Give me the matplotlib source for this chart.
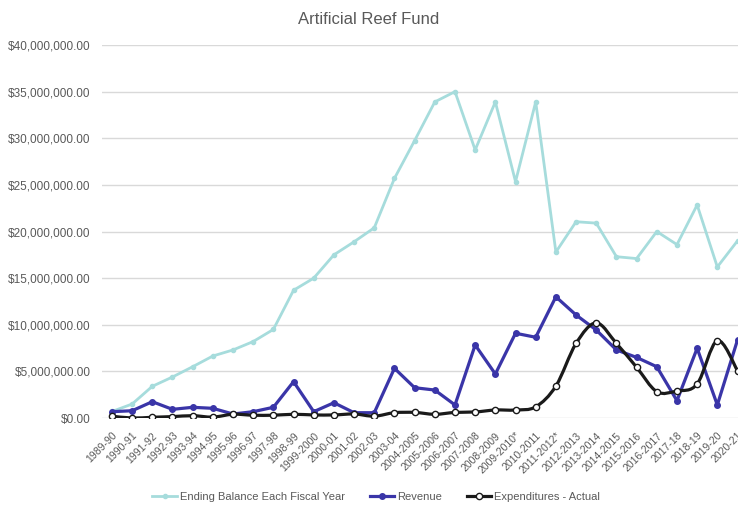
import matplotlib
matplotlib.use("Agg")
import matplotlib.pyplot as plt
import numpy as np
from matplotlib.path import Path
from matplotlib.patches import PathPatch
from matplotlib.lines import Line2D
from matplotlib.ticker import FuncFormatter, MultipleLocator

plt.rcParams['font.family'] = ['Liberation Sans', 'DejaVu Sans']

years = ["1989-90", "1990-91", "1991-92", "1992-93", "1993-94", "1994-95", "1995-96",
         "1996-97", "1997-98", "1998-99", "1999-2000", "2000-01", "2001-02", "2002-03",
         "2003-04", "2004-2005", "2005-2006", "2006-2007", "2007-2008", "2008-2009",
         "2009-2010*", "2010-2011", "2011-2012*", "2012-2013", "2013-2014", "2014-2015",
         "2015-2016", "2016-2017", "2017-18", "2018-19", "2019-20", "2020-21"]

ending_balance = [700000, 1500000, 3400000, 4400000, 5500000, 6650000, 7300000,
                  8200000, 9500000, 13700000, 15000000, 17500000, 18900000, 20400000,
                  25700000, 29750000, 33900000, 35000000, 28750000, 33900000,
                  25350000, 33900000, 17800000, 21050000, 20900000, 17300000,
                  17100000, 20000000, 18600000, 22850000, 16200000, 19000000]

revenue = [680000, 780000, 1750000, 930000, 1150000, 1040000, 430000,
           680000, 1150000, 3900000, 680000, 1640000, 570000, 570000,
           5330000, 3250000, 3000000, 1400000, 7830000, 4720000,
           9090000, 8660000, 13000000, 11050000, 9440000, 7300000,
           6500000, 5500000, 1860000, 7480000, 1400000, 8370000]

expenditures = [200000, 0, 80000, 150000, 250000, 100000, 400000,
                300000, 300000, 400000, 330000, 330000, 430000, 200000,
                570000, 600000, 400000, 600000, 650000, 860000,
                860000, 1200000, 3430000, 8000000, 10200000, 8000000,
                5440000, 2830000, 2900000, 3650000, 8300000, 5080000]

title = "Artificial Reef Fund"
labels = ["Ending Balance Each Fiscal Year", "Revenue", "Expenditures - Actual"]

c_bal = "#a6dcdc"
c_rev = "#3a35a8"
c_exp = "#1a1a1a"
gray = "#595959"

fig = plt.figure(figsize=(7.38, 5.07), dpi=100)
ax = fig.add_axes([0.138, 0.1755, 0.875, 0.7357])

x = np.arange(len(years))

def smooth_path(xs, ys):
    pts = np.column_stack([xs, ys]).astype(float)
    n = len(pts)
    verts = [pts[0]]
    codes = [Path.MOVETO]
    for i in range(n - 1):
        p0 = pts[i - 1] if i > 0 else pts[i]
        p1 = pts[i]
        p2 = pts[i + 1]
        p3 = pts[i + 2] if i + 2 < n else pts[i + 1]
        c1 = p1 + (p2 - p0) / 6.0
        c2 = p2 - (p3 - p1) / 6.0
        verts += [c1, c2, p2]
        codes += [Path.CURVE4] * 3
    return Path(verts, codes)

ax.plot(x, ending_balance, color=c_bal, lw=2, marker='o', ms=3, zorder=3)
ax.plot(x, revenue, color=c_rev, lw=2.3, marker='o', ms=4, zorder=4)
ax.add_patch(PathPatch(smooth_path(x, expenditures), fill=False, edgecolor=c_exp, lw=2.3, zorder=5))
ax.plot(x, expenditures, linestyle='none', marker='o', ms=4.5, markerfacecolor='white',
        markeredgecolor=c_exp, markeredgewidth=1, zorder=6)

ax.set_xlim(-0.5, len(years) - 0.5)
ax.set_ylim(0, 40000000)
ax.yaxis.set_major_locator(MultipleLocator(5000000))
ax.yaxis.set_major_formatter(FuncFormatter(lambda v, p: "${:,.2f}".format(v)))
ax.grid(axis='y', color='#d9d9d9', lw=1)
ax.set_axisbelow(True)
for s in ax.spines.values():
    s.set_visible(False)
ax.tick_params(axis='y', length=0, labelsize=8.5, labelcolor=gray, pad=8)
ax.set_xticks(x)
ax.set_xticklabels(years, rotation=45, ha='right', va='top', rotation_mode='anchor',
                   fontsize=7.5, color=gray)
ax.tick_params(axis='x', length=0, pad=9)

fig.text(0.5, 0.962, title, ha='center', va='center', fontsize=12, color=gray)

handles = [
    Line2D([], [], color=c_bal, lw=2, marker='o', ms=3),
    Line2D([], [], color=c_rev, lw=2.3, marker='o', ms=4),
    Line2D([], [], color=c_exp, lw=2.3, marker='o', ms=4.5, markerfacecolor='white',
           markeredgewidth=1),
]
fig.legend(handles, labels, loc='center', bbox_to_anchor=(0.51, 0.02), ncol=3,
           frameon=False, fontsize=8, labelcolor=gray, handlelength=2.2,
           handletextpad=0.3, columnspacing=2.2)

fig.savefig("out.png", dpi=100)
